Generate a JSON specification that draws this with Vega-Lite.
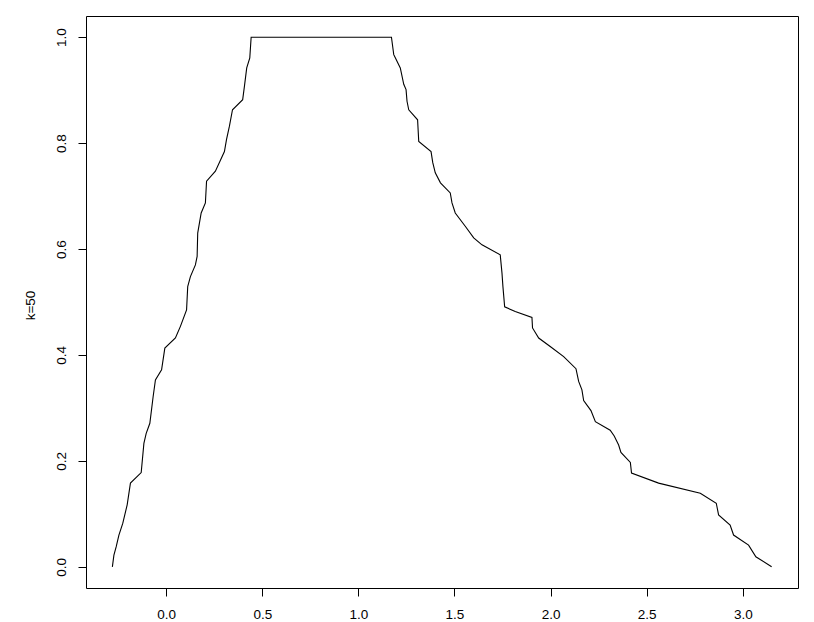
{
  "$schema": "https://vega.github.io/schema/vega-lite/v6.json",
  "width": 712,
  "height": 572,
  "autosize": {"type": "none"},
  "padding": {"left": 86, "top": 16, "right": 16, "bottom": 34},
  "background": "white",
  "config": {
    "view": {"stroke": "black", "strokeWidth": 1},
    "axis": {
      "labelFont": "Liberation Sans",
      "titleFont": "Liberation Sans",
      "labelFontSize": 13.5,
      "titleFontSize": 13.5,
      "labelColor": "black",
      "titleColor": "black",
      "titleFontWeight": "normal",
      "tickColor": "black",
      "tickSize": 8,
      "domain": false,
      "grid": false
    }
  },
  "data": {
    "values": [
      {"x": -0.280, "y": 0.000},
      {"x": -0.272, "y": 0.022},
      {"x": -0.260, "y": 0.038},
      {"x": -0.246, "y": 0.060},
      {"x": -0.226, "y": 0.082},
      {"x": -0.203, "y": 0.117},
      {"x": -0.186, "y": 0.158},
      {"x": -0.130, "y": 0.178},
      {"x": -0.116, "y": 0.233},
      {"x": -0.104, "y": 0.252},
      {"x": -0.085, "y": 0.271},
      {"x": -0.068, "y": 0.321},
      {"x": -0.056, "y": 0.353},
      {"x": -0.024, "y": 0.372},
      {"x": -0.007, "y": 0.413},
      {"x": 0.048, "y": 0.432},
      {"x": 0.074, "y": 0.454},
      {"x": 0.106, "y": 0.485},
      {"x": 0.112, "y": 0.529},
      {"x": 0.126, "y": 0.548},
      {"x": 0.152, "y": 0.570},
      {"x": 0.161, "y": 0.586},
      {"x": 0.164, "y": 0.630},
      {"x": 0.182, "y": 0.668},
      {"x": 0.204, "y": 0.687},
      {"x": 0.210, "y": 0.728},
      {"x": 0.256, "y": 0.747},
      {"x": 0.303, "y": 0.784},
      {"x": 0.314, "y": 0.807},
      {"x": 0.329, "y": 0.832},
      {"x": 0.345, "y": 0.863},
      {"x": 0.398, "y": 0.882},
      {"x": 0.407, "y": 0.907},
      {"x": 0.419, "y": 0.942},
      {"x": 0.435, "y": 0.961},
      {"x": 0.442, "y": 1.000},
      {"x": 1.172, "y": 1.000},
      {"x": 1.184, "y": 0.967},
      {"x": 1.192, "y": 0.961},
      {"x": 1.218, "y": 0.942},
      {"x": 1.236, "y": 0.911},
      {"x": 1.248, "y": 0.901},
      {"x": 1.253, "y": 0.879},
      {"x": 1.262, "y": 0.863},
      {"x": 1.308, "y": 0.844},
      {"x": 1.314, "y": 0.803},
      {"x": 1.378, "y": 0.784},
      {"x": 1.387, "y": 0.763},
      {"x": 1.400, "y": 0.744},
      {"x": 1.427, "y": 0.725},
      {"x": 1.478, "y": 0.706},
      {"x": 1.487, "y": 0.687},
      {"x": 1.504, "y": 0.668},
      {"x": 1.556, "y": 0.643},
      {"x": 1.600, "y": 0.621},
      {"x": 1.643, "y": 0.608},
      {"x": 1.738, "y": 0.589},
      {"x": 1.747, "y": 0.555},
      {"x": 1.752, "y": 0.529},
      {"x": 1.761, "y": 0.491},
      {"x": 1.816, "y": 0.482},
      {"x": 1.903, "y": 0.471},
      {"x": 1.906, "y": 0.451},
      {"x": 1.938, "y": 0.432},
      {"x": 1.998, "y": 0.416},
      {"x": 2.068, "y": 0.397},
      {"x": 2.132, "y": 0.374},
      {"x": 2.146, "y": 0.350},
      {"x": 2.163, "y": 0.334},
      {"x": 2.172, "y": 0.314},
      {"x": 2.210, "y": 0.295},
      {"x": 2.233, "y": 0.274},
      {"x": 2.310, "y": 0.258},
      {"x": 2.331, "y": 0.247},
      {"x": 2.354, "y": 0.230},
      {"x": 2.366, "y": 0.216},
      {"x": 2.415, "y": 0.197},
      {"x": 2.421, "y": 0.177},
      {"x": 2.562, "y": 0.158},
      {"x": 2.779, "y": 0.139},
      {"x": 2.862, "y": 0.120},
      {"x": 2.874, "y": 0.098},
      {"x": 2.934, "y": 0.079},
      {"x": 2.952, "y": 0.060},
      {"x": 3.030, "y": 0.041},
      {"x": 3.068, "y": 0.019},
      {"x": 3.150, "y": 0.000}
    ]
  },
  "mark": {"type": "line", "color": "black", "strokeWidth": 1.1},
  "encoding": {
    "x": {
      "field": "x",
      "type": "quantitative",
      "scale": {"domain": [-0.4172, 3.2872], "nice": false, "zero": false},
      "axis": {
        "title": null,
        "values": [0, 0.5, 1, 1.5, 2, 2.5, 3],
        "format": ".1f",
        "labelBaseline": "middle",
        "labelPadding": 18.5
      }
    },
    "y": {
      "field": "y",
      "type": "quantitative",
      "scale": {"domain": [-0.04, 1.04], "nice": false, "zero": false},
      "axis": {
        "title": "k=50",
        "values": [0, 0.2, 0.4, 0.6, 0.8, 1.0],
        "format": ".1f",
        "labelAngle": 270,
        "labelAlign": "center",
        "labelBaseline": "bottom",
        "labelPadding": 10,
        "titleX": -56,
        "titleY": 289,
        "titleAngle": 270,
        "titleAlign": "center",
        "titleBaseline": "middle"
      }
    }
  }
}
